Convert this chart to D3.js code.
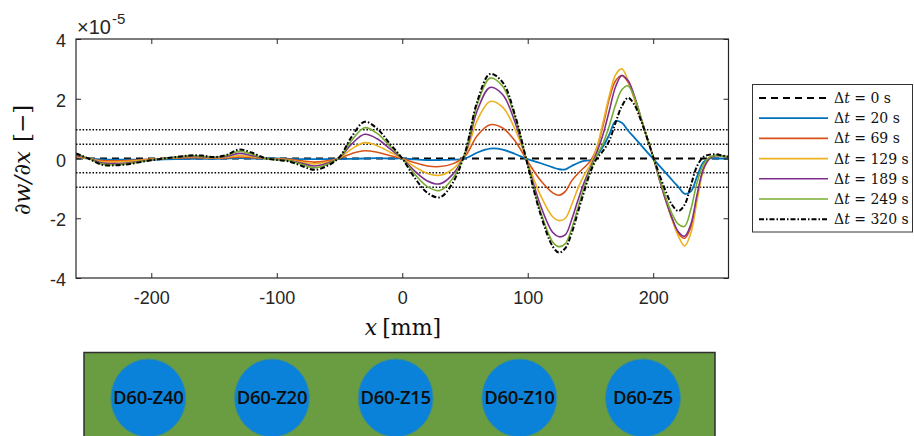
<!DOCTYPE html>
<html><head><meta charset="utf-8">
<script src="https://cdn.jsdelivr.net/npm/d3@7"></script>
<style>body{margin:0;background:#fff;} svg{display:block;}</style>
</head><body>
<svg id="c" width="914" height="436"></svg>
<script>
// ---- data (values in units of 1e-5) ----
const xPos = [-260,-250,-240,-230,-220,-210,-200,-190,-180,-170,-160,-150,-140,-130,-120,-110,-100,-90,-80,-70,-60,-50,-40,-30,-20,-10,0,10,20,30,40,50,60,70,80,90,100,110,120,
  125,130,135,140,145,150,155,160,165,170,175,180,185,190,195,200,205,210,215,220,225,230,235,240,245,250,255,260];
const xZero = [-260, 260];
const dt0 = [0, 0];
const dt20 = [0.03,0.0,-0.03,-0.04,-0.04,-0.04,-0.04,-0.03,-0.02,-0.01,-0.01,-0.01,0.0,0.01,0.0,0.0,0.0,-0.01,-0.02,-0.02,-0.02,-0.02,-0.01,0.0,0.01,0.0,0.0,-0.03,-0.05,-0.05,-0.04,0.0,0.2,0.33,0.3,0.15,-0.02,-0.15,-0.3,
  -0.36,-0.36,-0.25,-0.15,-0.08,-0.05,0.1,0.4,0.8,1.25,1.2,0.93,0.7,0.46,0.22,-0.01,-0.25,-0.48,-0.72,-0.95,-1.18,-1.1,-0.6,-0.12,0.0,0.0,0.0,0.0];
const dt69 = [0.04,0.0,-0.07,-0.08,-0.07,-0.05,-0.02,0.0,0.02,0.03,0.02,0.01,0.02,0.05,0.03,0.0,-0.01,-0.03,-0.08,-0.12,-0.08,0.01,0.17,0.26,0.21,0.1,0.0,-0.14,-0.25,-0.27,-0.18,0.08,0.78,1.13,1.02,0.58,-0.1,-0.72,-1.15,
  -1.23,-1.1,-0.75,-0.5,-0.3,-0.08,0.35,1.1,2.0,2.6,2.78,2.55,2.0,1.35,0.7,0.05,-0.7,-1.4,-2.0,-2.5,-2.67,-2.3,-1.3,-0.35,0.0,0.1,0.08,0.05];
const dt129 = [0.07,0.0,-0.1,-0.12,-0.1,-0.07,-0.03,0.0,0.03,0.05,0.04,0.02,0.04,0.1,0.06,0.0,-0.02,-0.05,-0.12,-0.18,-0.12,0.02,0.33,0.53,0.43,0.22,0.0,-0.28,-0.5,-0.56,-0.36,0.13,1.3,1.91,1.72,0.97,-0.15,-1.22,-1.96,
  -2.08,-2.0,-1.55,-1.0,-0.55,-0.2,0.35,1.2,2.1,2.8,3.0,2.6,2.0,1.35,0.7,0.05,-0.7,-1.4,-2.05,-2.6,-2.93,-2.5,-1.4,-0.4,0.0,0.1,0.08,0.05];
const dt189 = [0.1,0.0,-0.14,-0.17,-0.15,-0.1,-0.04,0.0,0.04,0.07,0.06,0.03,0.07,0.17,0.1,0.01,-0.03,-0.07,-0.16,-0.25,-0.16,0.03,0.5,0.81,0.66,0.33,0.0,-0.42,-0.75,-0.85,-0.54,0.16,1.63,2.38,2.14,1.2,-0.19,-1.55,-2.48,
  -2.62,-2.55,-2.05,-1.4,-0.8,-0.3,0.2,0.8,1.6,2.4,2.78,2.6,2.1,1.4,0.72,0.05,-0.7,-1.4,-2.0,-2.45,-2.6,-2.2,-1.2,-0.35,0.0,0.1,0.08,0.05];
const dt249 = [0.15,0.0,-0.18,-0.21,-0.18,-0.12,-0.05,0.0,0.05,0.09,0.08,0.04,0.1,0.24,0.15,0.01,-0.04,-0.08,-0.2,-0.31,-0.2,0.04,0.62,1.03,0.84,0.42,0.0,-0.53,-0.94,-1.07,-0.68,0.18,1.84,2.69,2.42,1.36,-0.22,-1.75,-2.8,
  -2.95,-2.85,-2.35,-1.65,-0.95,-0.35,0.1,0.5,1.1,1.8,2.3,2.43,2.05,1.4,0.72,0.05,-0.65,-1.3,-1.85,-2.2,-2.27,-1.7,-0.8,-0.2,0.05,0.1,0.08,0.05];
const dt320 = [0.17,0.0,-0.2,-0.23,-0.2,-0.13,-0.06,0.0,0.05,0.1,0.1,0.05,0.12,0.3,0.2,0.02,-0.05,-0.1,-0.25,-0.38,-0.25,0.05,0.75,1.23,1.0,0.5,0.0,-0.65,-1.15,-1.3,-0.83,0.19,1.94,2.83,2.55,1.43,-0.23,-1.84,-2.95,
  -3.15,-3.0,-2.5,-1.8,-1.1,-0.45,0.0,0.25,0.6,1.2,1.75,2.03,1.8,1.3,0.7,0.05,-0.55,-1.1,-1.55,-1.76,-1.55,-0.9,-0.25,0.05,0.13,0.14,0.1,0.06];
const refLevels = [0.96, 0.48, -0.48, -0.96];
const legendLabels = ["0", "20", "69", "129", "189", "249", "320"];
const xTicks = [-200, -100, 0, 100, 200];
const yTicks = [-4, -2, 0, 2, 4];
const pileLabels = ["D60-Z40", "D60-Z20", "D60-Z15", "D60-Z10", "D60-Z5"];

// ---- styles ----
const series = [
  {x: xZero, y: dt0,  color: "#000", w: 2, dash: "7,5"},
  {x: xPos, y: dt20,  color: "#0072BD", w: 1.8, dash: null},
  {x: xPos, y: dt69,  color: "#D95319", w: 1.6, dash: null},
  {x: xPos, y: dt129, color: "#EDB120", w: 1.6, dash: null},
  {x: xPos, y: dt189, color: "#7E2F8E", w: 1.6, dash: null},
  {x: xPos, y: dt249, color: "#77AC30", w: 1.6, dash: null},
  {x: xPos, y: dt320, color: "#000", w: 2, dash: "5,2,1.5,2"}
];

const svg = d3.select("#c");
const L = 76, R = 728.5, T = 39, B = 278;
const xs = d3.scaleLinear().domain([-260, 260]).range([L, R]);
const ys = d3.scaleLinear().domain([-4, 4]).range([B, T]);
const axisCol = "#262626";
const tickFont = "'Liberation Sans', Arial, sans-serif";
const serif = "'DejaVu Serif', 'Liberation Serif', serif";

svg.append("defs").append("clipPath").attr("id", "clip")
  .append("rect").attr("x", L).attr("y", T).attr("width", R - L).attr("height", B - T);

const plot = svg.append("g").attr("clip-path", "url(#clip)");

// reference dotted lines
plot.selectAll("line.ref").data(refLevels).enter().append("line")
  .attr("x1", L).attr("x2", R).attr("y1", d => ys(d)).attr("y2", d => ys(d))
  .attr("stroke", "#000").attr("stroke-width", 1.5).attr("stroke-dasharray", "1.5,1.8");

const line = d3.line().curve(d3.curveCatmullRom.alpha(0.5));
series.forEach(s => {
  const pts = s.x.map((xv, i) => [xs(xv), ys(s.y[i])]);
  plot.append("path").attr("d", line(pts)).attr("fill", "none")
    .attr("stroke", s.color).attr("stroke-width", s.w)
    .attr("stroke-dasharray", s.dash).attr("stroke-linejoin", "round");
});

// axes
const fmt = d => String(d);
const gx = svg.append("g").attr("transform", `translate(0,${B})`)
  .call(d3.axisBottom(xs).tickValues(xTicks).tickSize(-5).tickSizeOuter(0).tickPadding(13).tickFormat(fmt));
const gxt = svg.append("g").attr("transform", `translate(0,${T})`)
  .call(d3.axisTop(xs).tickValues(xTicks).tickSize(-5).tickSizeOuter(0).tickFormat(""));
const gy = svg.append("g").attr("transform", `translate(${L},0)`)
  .call(d3.axisLeft(ys).tickValues(yTicks).tickSize(-5).tickSizeOuter(0).tickPadding(10).tickFormat(fmt));
const gyr = svg.append("g").attr("transform", `translate(${R},0)`)
  .call(d3.axisRight(ys).tickValues(yTicks).tickSize(-5).tickSizeOuter(0).tickFormat(""));
[gx, gxt, gy, gyr].forEach(g => {
  g.selectAll("path.domain").remove();
  g.selectAll("line").attr("stroke", axisCol).attr("stroke-width", 1);
  g.selectAll("text").attr("fill", axisCol).style("font-family", tickFont).style("font-size", "18px");
});
gy.selectAll("text").attr("dy", "0.42em");
svg.append("rect").attr("x", L).attr("y", T).attr("width", R - L).attr("height", B - T)
  .attr("fill", "none").attr("stroke", axisCol).attr("stroke-width", 1.2);

// exponent
const ex = svg.append("text").attr("x", 77).attr("y", 34).attr("fill", axisCol)
  .style("font-family", tickFont).style("font-size", "20px");
ex.append("tspan").text("×10");
ex.append("tspan").attr("dy", -10).attr("dx", 1).style("font-size", "15px").text("-5");

// axis titles
const xl = svg.append("text").attr("x", 403).attr("y", 335).attr("text-anchor", "middle")
  .style("font-family", serif).style("font-size", "22px").attr("fill", "#111");
xl.append("tspan").style("font-style", "italic").text("x");
xl.append("tspan").attr("dx", 5).text("[mm]");

const yl = svg.append("text").attr("transform", "translate(30,160) rotate(-90)")
  .attr("text-anchor", "middle").style("font-family", serif).style("font-size", "23px").attr("fill", "#111");
yl.append("tspan").style("font-style", "italic").text("∂w/∂x");
yl.append("tspan").attr("dx", 9).text("[−]");

// legend
const lg = svg.append("g");
lg.append("rect").attr("x", 752.5).attr("y", 84.5).attr("width", 160).attr("height", 147.5)
  .attr("fill", "#fff").attr("stroke", "#333").attr("stroke-width", 1);
series.forEach((s, i) => {
  const yy = 98 + i * 20.2;
  lg.append("line").attr("x1", 759).attr("x2", 828).attr("y1", yy).attr("y2", yy)
    .attr("stroke", s.color).attr("stroke-width", s.w).attr("stroke-dasharray", s.dash);
  const t = lg.append("text").attr("x", 834).attr("y", yy + 5)
    .style("font-family", serif).style("font-size", "14px").attr("fill", "#111");
  t.append("tspan").text("Δ");
  t.append("tspan").style("font-style", "italic").text("t");
  t.append("tspan").text(" = " + legendLabels[i] + " s");
});

// bottom panel
const px = d3.scalePoint().domain(pileLabels).range([148.3, 643]);
svg.append("rect").attr("x", 84).attr("y", 352.5).attr("width", 631).attr("height", 100)
  .attr("fill", "#6a9d42").attr("stroke", "#2f2f2f").attr("stroke-width", 1.5);
svg.selectAll("ellipse.pile").data(pileLabels).enter().append("ellipse")
  .attr("cx", d => px(d)).attr("cy", 398).attr("rx", 37.5).attr("ry", 39)
  .attr("fill", "#0a82d9").attr("stroke", "#3f8f8a").attr("stroke-width", 1);
svg.selectAll("text.pile").data(pileLabels).enter().append("text")
  .attr("x", d => px(d)).attr("y", 404).attr("text-anchor", "middle")
  .style("font-family", "'Open Sans', sans-serif").style("font-weight", 600).style("font-size", "18.5px")
  .style("letter-spacing", "-0.3px")
  .attr("fill", "#0d0d0d").text(d => d);
</script>
</body></html>
